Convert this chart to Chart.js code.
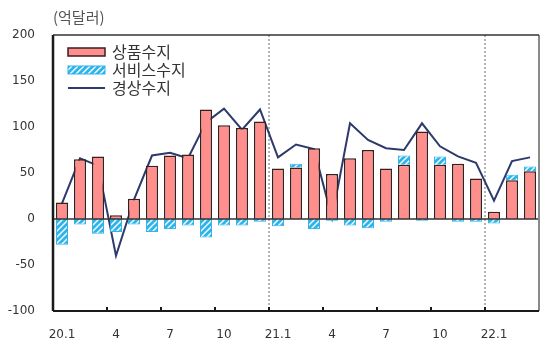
<!DOCTYPE html>
<html>
<head>
<meta charset="utf-8">
<script src="https://cdn.jsdelivr.net/npm/chart.js@4"></script>
<style>
  html, body { margin: 0; padding: 0; background: #fff; }
  #wrap { width: 560px; height: 350px; }
</style>
</head>
<body>
<div id="wrap"><canvas id="myChart" width="560" height="350"></canvas></div>
<script>
// 월 (20.1 ~ 22.3)
const months = ['20.1','2','3','4','5','6','7','8','9','10','11','12',
                '21.1','2','3','4','5','6','7','8','9','10','11','12',
                '22.1','2','3'];
// 억달러
const goods    = [18, 65, 68, 4, 22, 58, 69, 70, 119, 102, 99, 106,
                  55, 56, 77, 49, 66, 75, 55, 59, 95, 59, 60, 44,
                  8, 42, 52];
const services = [-28, -6, -16, -14, -6, -14, -11, -7, -20, -7, -7, -3,
                  -8, 4, -11, -2, -7, -10, -3, 10, -2, 9, -3, -3,
                  -5, 6, 5];
const current  = [17, 66, 58, -40, 21, 69, 72, 66, 105, 120, 97, 119,
                  67, 81, 76, 1, 104, 86, 77, 75, 104, 79, 68, 61,
                  20, 63, 67];
const yTicks = [-100, -50, 0, 50, 100, 150, 200];
const legendNames = ['상품수지', '서비스수지', '경상수지'];
const unitLabel = '(억달러)';

const goodsFill = '#FF8F8C';
const goodsEdge = '#3a1f1f';
const svcBlue = '#2DB4EA';
const lineColor = '#2E3A6B';

// 사선 무늬 (서비스수지)
function hatch(){
  const c = document.createElement('canvas');
  c.width = 6; c.height = 6;
  const g = c.getContext('2d');
  g.fillStyle = svcBlue;
  g.fillRect(0, 0, 6, 6);
  g.strokeStyle = '#ffffff';
  g.lineWidth = 1.4;
  g.beginPath();
  g.moveTo(0, 6); g.lineTo(6, 0);
  g.moveTo(-3, 3); g.lineTo(3, -3);
  g.moveTo(3, 9); g.lineTo(9, 3);
  g.stroke();
  return document.getElementById('myChart').getContext('2d').createPattern(c, 'repeat');
}
const svcPattern = hatch();

const boundary = (x, i) => (x.getPixelForValue(i - 1) + x.getPixelForValue(i)) / 2;

const decor = {
  id: 'decor',
  beforeDatasetsDraw(chart){
    const {ctx, chartArea: a, scales: {x}} = chart;
    ctx.save();
    // 연도 구분 점선
    ctx.strokeStyle = '#b4b4b4';
    ctx.lineWidth = 2;
    ctx.setLineDash([2, 2]);
    months.forEach((m, i) => {
      if (i > 0 && m.indexOf('.') > 0) {
        const px = Math.round(boundary(x, i));
        ctx.beginPath();
        ctx.moveTo(px, a.top);
        ctx.lineTo(px, a.bottom);
        ctx.stroke();
      }
    });
    ctx.restore();
  },
  afterDatasetsDraw(chart){
    const {ctx, chartArea: a, scales: {x, y}} = chart;
    ctx.save();
    // 0 기준선
    const y0 = y.getPixelForValue(0);
    ctx.strokeStyle = '#333';
    ctx.lineWidth = 1.5;
    ctx.beginPath();
    ctx.moveTo(a.left, y0);
    ctx.lineTo(a.right, y0);
    ctx.stroke();

    // 테두리
    ctx.strokeStyle = '#8a8a8a';
    ctx.lineWidth = 2;
    ctx.beginPath(); ctx.moveTo(a.right, a.top); ctx.lineTo(a.right, a.bottom); ctx.stroke();
    ctx.strokeStyle = '#333';
    ctx.lineWidth = 1.5;
    ctx.beginPath(); ctx.moveTo(a.left, a.top); ctx.lineTo(a.right, a.top); ctx.stroke();
    ctx.strokeStyle = '#1a1a1a';
    ctx.lineWidth = 2.5;
    ctx.beginPath(); ctx.moveTo(a.left, a.top); ctx.lineTo(a.left, a.bottom); ctx.stroke();
    ctx.lineWidth = 2;
    ctx.beginPath(); ctx.moveTo(a.left, a.bottom); ctx.lineTo(a.right, a.bottom); ctx.stroke();

    // x축 눈금 (분기)
    ctx.lineWidth = 2;
    for (let i = 3; i < months.length; i += 3) {
      const px = Math.round(boundary(x, i));
      ctx.beginPath();
      ctx.moveTo(px, a.bottom);
      ctx.lineTo(px, a.bottom - 4);
      ctx.stroke();
    }

    // 범례
    const lx = 68, lw = 37, rows = [52, 70, 88];
    ctx.font = '16px "Noto Sans CJK KR"';
    ctx.textBaseline = 'middle';
    ctx.fillStyle = goodsFill;
    ctx.fillRect(lx, rows[0] - 4, lw, 8);
    ctx.strokeStyle = goodsEdge; ctx.lineWidth = 1.5;
    ctx.strokeRect(lx, rows[0] - 4, lw, 8);
    ctx.fillStyle = svcPattern;
    ctx.fillRect(lx, rows[1] - 4, lw, 8);
    ctx.strokeStyle = svcBlue; ctx.lineWidth = 1;
    ctx.strokeRect(lx, rows[1] - 4, lw, 8);
    ctx.strokeStyle = lineColor; ctx.lineWidth = 2;
    ctx.beginPath(); ctx.moveTo(lx, rows[2]); ctx.lineTo(lx + lw, rows[2]); ctx.stroke();
    ctx.fillStyle = '#333';
    legendNames.forEach((t, i) => ctx.fillText(t, lx + lw + 7, rows[i]));

    // 단위
    ctx.font = '15px "Noto Sans CJK KR"';
    ctx.fillStyle = '#555';
    ctx.fillText(unitLabel, 53, 17);
    ctx.restore();
  }
};

new Chart(document.getElementById('myChart'), {
  type: 'bar',
  data: {
    labels: months,
    datasets: [
      {
        label: legendNames[0],
        data: goods,
        backgroundColor: goodsFill,
        borderColor: goodsEdge,
        borderWidth: 1.5,
        stack: 'bal',
        barPercentage: 0.67,
        categoryPercentage: 1
      },
      {
        label: legendNames[1],
        data: services,
        backgroundColor: svcPattern,
        borderColor: svcBlue,
        borderWidth: 1,
        stack: 'bal',
        barPercentage: 0.67,
        categoryPercentage: 1
      },
      {
        type: 'line',
        label: legendNames[2],
        data: current,
        borderColor: lineColor,
        borderWidth: 2,
        pointRadius: 0,
        tension: 0,
        fill: false,
        stack: 'ca'
      }
    ]
  },
  options: {
    responsive: false,
    animation: false,
    layout: { padding: { top: 35, right: 21, left: 0, bottom: 0 } },
    plugins: { legend: { display: false }, tooltip: { enabled: false } },
    scales: {
      x: {
        stacked: true,
        offset: true,
        grid: { display: false, drawTicks: false },
        border: { display: false },
        ticks: {
          autoSkip: false,
          maxRotation: 0,
          padding: 17,
          color: '#333',
          font: { family: 'DejaVu Sans', size: 12 },
          callback: (v, i) => i % 3 === 0 ? months[i] : ''
        },
        afterFit: s => { s.height = 39; }
      },
      y: {
        stacked: true,
        min: yTicks[0],
        max: yTicks[yTicks.length - 1],
        afterBuildTicks: s => { s.ticks = yTicks.map(v => ({ value: v })); },
        grid: { display: false, drawTicks: false },
        border: { display: false },
        ticks: {
          padding: 18,
          color: '#333',
          font: { family: 'DejaVu Sans', size: 12 }
        },
        afterFit: s => { s.width = 53; }
      }
    }
  },
  plugins: [decor]
});
</script>
</body>
</html>
